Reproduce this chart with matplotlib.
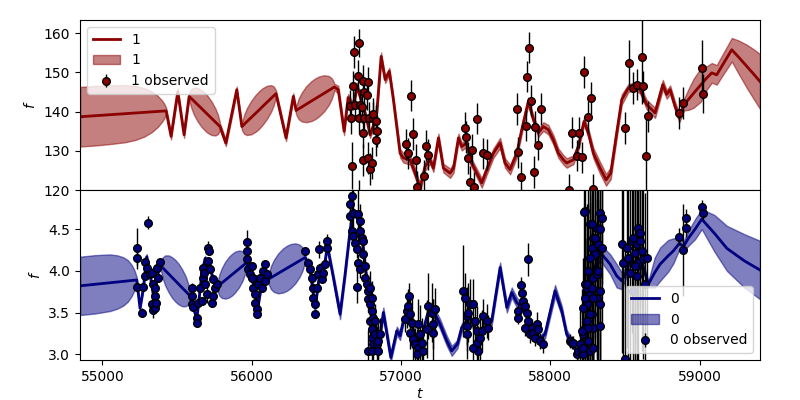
"""
Two-band light curve: GP mean, 1-sigma band and observed points
"""
import numpy as np
import matplotlib
matplotlib.use('Agg')
import matplotlib.pyplot as plt

# ---- band "1" (top panel) : model curve ----
t1_model = [54851, 54950, 55050, 55150, 55220, 55280, 55330, 55370, 55400, 55415, 55427,
            55460, 55505, 55547, 55581,
            55585, 55596, 55612, 55637, 55664, 55685, 55705, 55732, 55757, 55774, 55784,
            55788, 55827, 55900, 55934,
            55939, 55950, 55968, 55996, 56026, 56049, 56071, 56101, 56129, 56147, 56158,
            56163, 56230, 56279, 56297,
            56302, 56315, 56336, 56366, 56400, 56426, 56451, 56485, 56516, 56536, 56549,
            56554, 56580, 56619, 56646, 56679,
            56706, 56726, 56746, 56771, 56793, 56813, 56838, 56867, 56894, 56922,
            56949, 56972, 56994, 57016, 57061, 57095, 57128, 57161, 57195, 57217,
            57251, 57284, 57329, 57352, 57385, 57407, 57441, 57463, 57508, 57541,
            57575, 57619, 57664, 57697, 57731, 57776, 57809, 57853, 57887, 57920,
            57954, 57987, 58021, 58054, 58088, 58110, 58155, 58188, 58226, 58255,
            58289, 58334, 58374, 58405, 58445, 58479, 58523, 58568, 58602, 58646,
            58702, 58754, 58780, 58803, 58836, 58865, 58896, 58930, 58960, 59010, 59048,
            59082, 59115, 59160, 59216, 59260, 59316, 59360, 59405]
f1_model = [138.7, 138.96, 139.22, 139.48, 139.66, 139.82, 139.95, 140.05, 140.13, 140.17, 140.2,
            133.7, 145.1, 134.1, 143.9,
            143.75, 143.36, 142.75, 141.82, 140.82, 140.05, 139.28, 138.28, 137.36, 136.74, 136.35,
            136.2, 132.0, 145.6, 136.2,
            136.37, 136.79, 137.46, 138.47, 139.56, 140.4, 141.24, 142.33, 143.34, 144.01, 144.43,
            144.6, 133.3, 143.9, 140.3,
            140.42, 140.72, 141.2, 141.92, 142.7, 143.3, 143.9, 144.68, 145.4, 145.88, 146.18,
            146.3, 145.6, 135.0, 143.6, 141.4,
            146.5, 143.9, 141.4, 138.0, 134.1, 136.2, 139.7, 154.1, 148.2, 150.3,
            143.1, 136.2, 129.4, 128.2, 127.7, 124.3, 120.5, 126.0, 127.7, 125.6,
            133.3, 125.6, 124.3, 125.6, 133.3, 131.1, 132.0, 127.7, 124.3, 121.8,
            125.2, 129.4, 132.0, 126.9, 125.2, 129.4, 135.4, 142.6, 138.0, 134.6,
            136.2, 135.4, 132.8, 129.4, 127.7, 126.9, 127.7, 131.1, 137.5, 134.6,
            129.4, 125.6, 122.6, 124.3, 134.6, 143.1, 146.0, 146.5, 145.6, 141.8,
            139.7, 146.9, 144.4, 145.6, 141.4, 138.4, 141.8, 143.3, 144.7, 146.9, 148.6,
            149.9, 149.4, 152.3, 155.8, 154.0, 151.6, 149.7, 147.7]
s1_model = [7.6, 7.6, 7.5, 7.3, 6.9, 6.2, 5.2, 4.0, 2.7, 1.8, 0.8,
            0.8, 0.8, 0.8, 0.8,
            1.34, 2.45, 3.43, 4.26, 4.70, 4.8, 4.70, 4.26, 3.43, 2.45, 1.34,
            0.8, 0.8, 0.8, 0.8,
            1.34, 2.45, 3.43, 4.26, 4.70, 4.8, 4.70, 4.26, 3.43, 2.45, 1.34,
            0.8, 0.8, 0.8, 0.8,
            1.46, 2.65, 3.71, 4.62, 5.10, 5.2, 5.10, 4.62, 3.71, 2.65, 1.46,
            0.8, 1.0, 1.0, 0.9, 0.9,
            0.9, 0.8, 0.8, 0.8, 0.8, 0.8, 0.9, 1.0, 0.9, 0.9,
            0.9, 1.0, 1.1, 1.2, 1.2, 1.2, 1.2, 1.1, 1.0, 1.0,
            1.1, 1.1, 1.2, 1.2, 1.1, 1.0, 1.0, 1.0, 1.1, 1.2,
            1.2, 1.2, 1.3, 1.2, 1.2, 1.1, 1.0, 1.0, 1.0, 1.0,
            1.1, 1.2, 1.2, 1.2, 1.2, 1.2, 1.1, 1.0, 1.0, 1.1,
            1.3, 1.5, 1.5, 1.5, 1.4, 1.3, 1.0, 1.0, 1.0, 1.2,
            1.3, 1.2, 1.1, 1.1, 1.1, 1.1, 1.5, 2.8, 3.7, 4.3, 3.0,
            2.5, 2.5, 2.7, 3.0, 4.2, 5.5, 6.3, 7.0]

# ---- band "1" observed ----
t1_obs = [56670, 56666, 56659, 56688, 56721, 56681, 56715, 56693, 56726, 56721,
          56744, 56755, 56771, 56782, 56741, 56755, 56748, 56748, 56782, 56793,
          56804, 56788, 56811, 56815, 56831, 56838, 56834, 57068, 57083, 57034,
          57050, 57099, 57110, 57157, 57166, 57184, 57429, 57436, 57508, 57478,
          57451, 57463, 57490, 57552, 57579, 57780, 57786, 57804, 57836, 57843,
          57860, 57874, 57898, 57936, 57920, 57892, 58128, 58148, 58178, 58195,
          58215, 58229, 58255, 58273, 58289, 58501, 58530, 58557, 58583, 58617,
          58624, 58657, 58642, 58865, 58892, 59015, 59026, 56721]
f1_obs = [126.2, 138.4, 141.5, 155.2, 157.5, 146.5, 149.2, 141.8, 141.8, 138.4,
          147.9, 144.9, 144.3, 147.5, 141.2, 138.4, 134.6, 127.7, 128.2, 125.4,
          126.9, 138.4, 138.4, 139.4, 137.7, 135.1, 132.8, 144.1, 134.3, 131.7,
          129.4, 127.7, 120.8, 123.7, 131.3, 129.0, 135.8, 133.5, 138.2, 130.3,
          128.2, 122.0, 120.7, 129.4, 129.0, 140.7, 129.6, 123.2, 136.4, 148.9,
          156.3, 142.8, 136.2, 140.7, 131.6, 124.6, 120.1, 134.6, 128.8, 134.6,
          128.3, 150.1, 138.6, 143.5, 120.2, 135.8, 152.4, 146.0, 146.9, 154.0,
          146.5, 138.8, 128.8, 139.7, 142.2, 151.2, 144.6, 117.5]
e1_obs = [6, 4, 4, 4, 3.5, 4, 4, 4, 4, 4,
          4, 4, 4, 4, 4, 4, 4, 4, 4, 4,
          4, 4, 4, 4, 4, 4, 4, 4, 4, 4,
          4, 4, 4, 4, 4, 4, 4, 4, 4, 4,
          4, 4, 4, 4, 4, 4, 4, 4, 4, 4,
          4, 4, 4, 4, 4, 4, 4, 4, 4, 4,
          4, 4, 4, 4, 4, 4, 6, 4, 4, 12,
          4, 4, 10, 4, 4, 7, 5, 5]

# ---- band "0" (bottom panel) : model curve ----
t0_model = [54851, 54950, 55050, 55100, 55140, 55170, 55195, 55212, 55222, 55230,
            55252, 55275, 55297, 55320, 55342, 55364, 55391,
            55395, 55405, 55420, 55444, 55469, 55489, 55509, 55534, 55558, 55573, 55583,
            55587, 55632, 55666, 55688, 55721, 55755, 55770,
            55774, 55784, 55800, 55823, 55849, 55869, 55888, 55914, 55938, 55953, 55963,
            55967, 55990, 56020, 56040, 56065, 56090, 56112,
            56117, 56129, 56149, 56178, 56210, 56235, 56260, 56292, 56321, 56341, 56353,
            56358, 56391, 56425, 56450, 56481, 56507,
            56547, 56592, 56625, 56660, 56680, 56715, 56740, 56760, 56790, 56815,
            56840, 56860, 56882, 56932, 56972, 56994, 57016, 57050, 57106, 57139,
            57184, 57228, 57262, 57307, 57340, 57378, 57407, 57463, 57508, 57563,
            57608, 57664, 57709, 57742, 57776, 57820, 57876, 57932, 57965, 58032,
            58077, 58110, 58155, 58178, 58220, 58260, 58289, 58323, 58345, 58401,
            58445, 58479, 58512, 58535, 58557, 58584, 58602, 58624, 58657, 58700,
            58736, 58790, 58825, 58865, 58892, 58925, 58970, 59015, 59100, 59183,
            59300, 59405]
f0_model = [3.82, 3.838, 3.857, 3.866, 3.873, 3.879, 3.884, 3.887, 3.888, 3.89,
            3.55, 3.80, 4.17, 3.95, 3.70, 3.95, 4.06,
            4.053, 4.035, 4.006, 3.963, 3.916, 3.88, 3.844, 3.797, 3.754, 3.725, 3.707,
            3.70, 3.42, 3.96, 4.15, 4.02, 3.84, 3.81,
            3.816, 3.83, 3.854, 3.888, 3.926, 3.955, 3.984, 4.022, 4.057, 4.08, 4.094,
            4.10, 3.98, 3.78, 3.55, 3.82, 4.02, 3.90,
            3.905, 3.918, 3.939, 3.97, 4.004, 4.03, 4.056, 4.09, 4.121, 4.142, 4.155,
            4.16, 4.02, 3.55, 3.90, 3.98, 4.30,
            3.92, 3.48, 3.95, 4.50, 4.72, 4.60, 4.40, 4.05, 3.70, 3.40,
            3.15, 3.22, 3.50, 2.96, 3.28, 3.22, 3.40, 3.52, 3.12, 3.22,
            3.52, 3.48, 3.36, 3.16, 3.04, 3.12, 3.32, 3.44, 3.25, 3.32,
            3.40, 4.04, 3.56, 3.74, 3.62, 3.55, 3.32, 3.18, 3.24, 3.76,
            3.52, 3.24, 3.12, 3.00, 3.20, 3.55, 3.96, 4.18, 4.20, 4.08,
            3.94, 3.88, 4.00, 4.14, 4.06, 4.16, 4.02, 4.04, 3.84, 3.98,
            4.08, 4.18, 4.24, 4.33, 4.29, 4.39, 4.50, 4.62, 4.45, 4.27,
            4.12, 4.01]
s0_model = [0.35, 0.35, 0.34, 0.32, 0.29, 0.25, 0.19, 0.13, 0.08, 0.03,
            0.03, 0.03, 0.03, 0.03, 0.03, 0.03, 0.03,
            0.07, 0.128, 0.179, 0.222, 0.245, 0.25, 0.245, 0.222, 0.179, 0.128, 0.07,
            0.03, 0.03, 0.03, 0.03, 0.03, 0.03, 0.03,
            0.07, 0.128, 0.179, 0.222, 0.245, 0.25, 0.245, 0.222, 0.179, 0.128, 0.07,
            0.03, 0.03, 0.03, 0.03, 0.03, 0.03, 0.03,
            0.076, 0.138, 0.193, 0.24, 0.265, 0.27, 0.265, 0.24, 0.193, 0.138, 0.076,
            0.03, 0.03, 0.03, 0.03, 0.03, 0.03,
            0.05, 0.06, 0.05, 0.04, 0.03, 0.03, 0.03, 0.03, 0.03, 0.03,
            0.03, 0.04, 0.06, 0.05, 0.05, 0.05, 0.04, 0.04, 0.04, 0.04,
            0.04, 0.06, 0.06, 0.06, 0.06, 0.05, 0.05, 0.04, 0.04, 0.04,
            0.05, 0.06, 0.06, 0.06, 0.06, 0.04, 0.04, 0.04, 0.05, 0.07,
            0.06, 0.05, 0.04, 0.04, 0.05, 0.05, 0.06, 0.08, 0.10, 0.12,
            0.14, 0.10, 0.06, 0.05, 0.05, 0.05, 0.05, 0.05, 0.04, 0.18,
            0.20, 0.19, 0.15, 0.07, 0.06, 0.09, 0.12, 0.12, 0.22, 0.27,
            0.32, 0.35]

# ---- band "0" observed ----
t0_obs = [55230, 55230, 55230, 55264, 55275, 55286, 55308, 55286, 55297, 55320,
          55331, 55342, 55353, 55353, 55331, 55342, 55353, 55364, 55375, 55386,
          55360,
          55599, 55599, 55599, 55610, 55632, 55632, 55643, 55654, 55665, 55672,
          55677, 55681, 55688, 55699, 55706, 55717, 55710, 55721, 55733, 55744,
          55755, 55766, 55744,
          55971, 55967, 55967, 55978, 55989, 56000, 56012, 56000, 56012, 56023,
          56023, 56034, 56034, 56045, 56056, 56067, 56079, 56090, 56090, 56101,
          56358, 56380, 56391, 56402, 56414, 56414, 56425, 56425, 56436, 56447,
          56454, 56458, 56469, 56481, 56492, 56507, 56507,
          56659, 56670, 56659, 56682, 56715, 56726, 56670, 56682, 56693, 56704,
          56726, 56738, 56749, 56715, 56726, 56704, 56749, 56760, 56760, 56771,
          56782, 56782, 56793, 56804, 56793, 56816, 56804, 56816, 56782, 56804,
          56793, 56804, 56815, 56827, 56804, 56827, 56838, 56849, 56860, 56849,
          57028, 57039, 57050, 57057, 57061, 57072, 57061, 57083, 57095, 57117,
          57128, 57117, 57106, 57139, 57150, 57173, 57184, 57206, 57217, 57217,
          57229,
          57418, 57430, 57441, 57441, 57441, 57452, 57463, 57485, 57497, 57508,
          57508, 57519, 57530, 57541, 57552, 57575, 57586, 57485,
          57787, 57787, 57802, 57809, 57820, 57831, 57842, 57854, 57854, 57831,
          57865, 57876, 57887, 57898, 57909, 57921, 57932, 57954,
          58133, 58144, 58150, 58177, 58189,
          58200, 58211, 58222, 58233, 58233, 58244, 58244, 58256, 58256, 58267,
          58267, 58267, 58278, 58278, 58289, 58289, 58289, 58300, 58311, 58311,
          58322, 58322, 58334, 58334, 58345, 58334, 58244, 58233, 58222, 58229,
          58278, 58334, 58300, 58345, 58267, 58244, 58233, 58222, 58267, 58278,
          58289, 58311, 58323, 58334, 58256, 58211, 58222, 58289,
          58479, 58490, 58512, 58523, 58535, 58546, 58557, 58568, 58579, 58590,
          58602, 58602, 58613, 58590, 58568, 58579, 58624, 58651, 58635,
          58501, 58557,
          58865, 58910, 58910, 58892, 59015, 59026]
f0_obs = [4.27, 4.15, 3.81, 3.50, 3.81, 4.11, 4.58, 3.94, 4.04, 3.96,
          3.98, 3.84, 3.80, 3.70, 3.60, 3.53, 3.56, 4.04, 3.92, 4.11,
          3.62,
          3.80, 3.70, 3.60, 3.57, 3.43, 3.38, 3.62, 3.80, 3.64, 3.92,
          4.04, 3.98, 3.84, 3.72, 4.28, 4.24, 4.12, 4.02, 3.62, 3.70,
          3.80, 3.84, 3.90,
          4.35, 4.24, 4.14, 4.02, 3.96, 4.06, 3.92, 3.92, 3.80, 3.72,
          3.62, 3.54, 3.48, 3.84, 3.92, 3.80, 4.00, 4.08, 3.88, 3.96,
          4.24, 4.10, 4.02, 3.92, 3.80, 3.68, 3.60, 3.48, 3.80, 3.96,
          4.26, 4.04, 3.90, 3.98, 4.08, 4.36, 4.27,
          4.80, 4.90, 4.66, 4.70, 4.68, 4.60, 4.48, 4.42, 4.34, 4.26,
          4.48, 4.40, 4.36, 4.10, 4.02, 3.81, 4.20, 4.06, 3.92, 3.84,
          3.76, 3.66, 3.60, 3.52, 3.40, 3.32, 3.20, 3.12, 3.04, 3.04,
          3.80, 3.68, 3.44, 3.40, 3.30, 3.24, 3.12, 3.16, 3.24, 3.04,
          3.42, 3.52, 3.58, 3.70, 3.48, 3.38, 3.26, 3.18, 3.12, 3.36,
          3.24, 3.08, 3.00, 3.14, 3.04, 3.30, 3.58, 3.50, 3.36, 3.26,
          3.54,
          3.76, 3.68, 3.46, 3.34, 3.24, 3.50, 3.60, 3.60, 3.40, 3.28,
          3.14, 3.04, 3.20, 3.28, 3.46, 3.40, 3.32, 3.08,
          3.52, 3.44, 3.83, 3.74, 3.64, 3.58, 3.50, 3.40, 4.14, 3.32,
          3.24, 3.32, 3.26, 3.20, 3.36, 3.30, 3.16, 3.12,
          3.16, 3.14, 3.14, 3.00, 3.04,
          3.12, 3.04, 3.24, 4.72, 3.84, 3.60, 3.40, 4.00, 3.16, 4.56,
          3.72, 3.04, 4.28, 3.48, 4.40, 3.92, 3.32, 4.20, 4.52, 3.68,
          4.32, 3.96, 4.70, 3.60, 4.64, 3.34, 3.80, 3.32, 3.00, 4.71,
          4.56, 4.50, 4.40, 4.28, 4.16, 3.84, 3.68, 3.56, 3.48, 3.80,
          3.68, 3.96, 4.00, 3.76, 3.32, 3.28, 3.08, 3.08,
          4.32, 4.10, 4.28, 4.16, 3.98, 4.36, 4.40, 4.22, 4.32, 4.52,
          4.46, 4.36, 4.24, 4.10, 4.06, 3.94, 4.14, 4.16, 3.84,
          2.94, 3.76,
          4.41, 4.51, 4.64, 4.25, 4.77, 4.69]
e0_obs = [0.25, 0.08, 0.06, 0.05, 0.05, 0.06, 0.08, 0.05, 0.05, 0.05,
          0.05, 0.05, 0.05, 0.05, 0.10, 0.10, 0.05, 0.05, 0.05, 0.05,
          0.05,
          0.05, 0.05, 0.05, 0.05, 0.05, 0.05, 0.05, 0.05, 0.05, 0.05,
          0.05, 0.05, 0.05, 0.10, 0.08, 0.05, 0.05, 0.05, 0.05, 0.05,
          0.05, 0.05, 0.05,
          0.14, 0.05, 0.05, 0.05, 0.05, 0.05, 0.05, 0.05, 0.05, 0.05,
          0.05, 0.05, 0.05, 0.05, 0.05, 0.05, 0.05, 0.05, 0.05, 0.05,
          0.05, 0.05, 0.05, 0.05, 0.05, 0.05, 0.05, 0.05, 0.05, 0.05,
          0.10, 0.05, 0.05, 0.05, 0.05, 0.08, 0.05,
          0.15, 0.40, 0.10, 0.30, 0.40, 0.20, 0.10, 0.10, 0.10, 0.10,
          0.15, 0.10, 0.10, 0.10, 0.10, 0.20, 0.10, 0.10, 0.10, 0.10,
          0.10, 0.15, 0.10, 0.15, 0.20, 0.15, 0.20, 0.20, 0.25, 0.30,
          0.20, 0.20, 0.20, 0.20, 0.20, 0.20, 0.20, 0.20, 0.20, 0.30,
          0.15, 0.20, 0.20, 0.15, 0.25, 0.30, 0.20, 0.25, 0.20, 0.30,
          0.35, 0.30, 0.30, 0.30, 0.25, 0.35, 0.40, 0.35, 0.30, 0.40,
          0.25,
          0.55, 0.30, 0.35, 0.30, 0.30, 0.35, 0.30, 0.30, 0.25, 0.30,
          0.30, 0.30, 0.30, 0.25, 0.20, 0.20, 0.15, 0.30,
          0.08, 0.08, 0.10, 0.08, 0.08, 0.08, 0.08, 0.10, 0.20, 0.10,
          0.10, 0.10, 0.10, 0.10, 0.15, 0.10, 0.10, 0.10,
          0.08, 0.08, 0.08, 0.10, 0.10,
          0.40, 0.50, 0.60, 1.00, 0.90, 0.80, 1.00, 1.20, 0.80, 1.00,
          1.10, 0.90, 1.20, 1.00, 1.00, 1.30, 0.80, 1.10, 0.90, 1.20,
          1.00, 0.90, 0.70, 1.00, 0.80, 0.90, 1.00, 0.70, 0.50, 1.00,
          1.10, 0.80, 1.20, 0.90, 1.00, 0.80, 0.70, 0.60, 0.90, 1.10,
          1.00, 1.00, 1.10, 1.00, 0.80, 0.50, 0.50, 0.80,
          1.30, 1.40, 1.20, 1.50, 1.30, 1.10, 1.40, 1.30, 1.20, 1.10,
          0.90, 1.00, 1.20, 1.30, 1.30, 1.40, 1.20, 1.00, 1.10,
          1.30, 1.30,
          0.10, 0.10, 0.10, 0.55, 0.08, 0.08]

fig, (ax1, ax2) = plt.subplots(2, 1, sharex=True, figsize=(8, 4), dpi=100)
fig.subplots_adjust(left=0.1, right=0.95, top=0.95, bottom=0.1, hspace=0)

panels = [
    (ax1, '1', 'darkred', t1_model, f1_model, s1_model, t1_obs, f1_obs, e1_obs),
    (ax2, '0', 'navy', t0_model, f0_model, s0_model, t0_obs, f0_obs, e0_obs),
]

for ax, name, col, tm, fm, sm, to, fo, eo in panels:
    tm = np.array(tm)
    fm = np.array(fm)
    sm = np.array(sm)
    ax.plot(tm, fm, color=col, lw=2, label=name)
    ax.fill_between(tm, fm - sm, fm + sm, color=col, alpha=0.5, label=name)
    ax.errorbar(to, fo, yerr=eo, fmt='o', color=col, mec='black', ecolor='black',
                elinewidth=1, ms=5.5, mew=1, label=name + ' observed')
    ax.set_ylabel('$f$')

ax1.set_ylim(120, 163.4)
ax2.set_ylim(2.93, 4.97)
ax2.set_xlim(54850, 59405)
ax2.set_xlabel('$t$', labelpad=2)
ax1.set_yticks([120, 130, 140, 150, 160])
ax2.set_yticks([3.0, 3.5, 4.0, 4.5])

ax1.legend(loc='upper left')
ax2.legend(loc='lower right')

plt.savefig('out.png', dpi=100)
